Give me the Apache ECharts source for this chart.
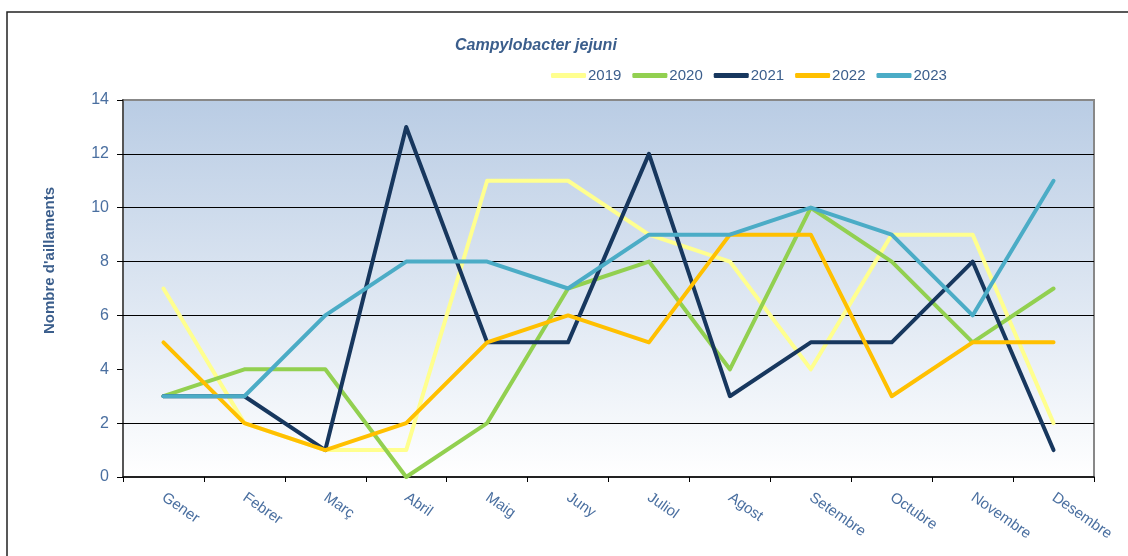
<!DOCTYPE html>
<html>
<head>
<meta charset="utf-8">
<title>Campylobacter jejuni</title>
<script src="https://cdn.jsdelivr.net/npm/echarts@6/dist/echarts.min.js"></script>
<style>
    html, body { margin: 0; padding: 0; background: #fff; }
    #main { width: 1128px; height: 556px; }
</style>
</head>
<body>
<div id="main"></div>
<script>
const months = ['Gener', 'Febrer', 'Març', 'Abril', 'Maig', 'Juny', 'Juliol', 'Agost', 'Setembre', 'Octubre', 'Novembre', 'Desembre'];
const years = ['2019', '2020', '2021', '2022', '2023'];
const data2019 = [7, 2, 1, 1, 11, 11, 9, 8, 4, 9, 9, 2];
const data2020 = [3, 4, 4, 0, 2, 7, 8, 4, 10, 8, 5, 7];
const data2021 = [3, 3, 1, 13, 5, 5, 12, 3, 5, 5, 8, 1];
const data2022 = [5, 2, 1, 2, 5, 6, 5, 9, 9, 3, 5, 5];
const data2023 = [3, 3, 6, 8, 8, 7, 9, 9, 10, 9, 6, 11];
// horizontal gridlines shown in the original (no line at 4)
const gridValues = [2, 6, 8, 10, 12];

const colorArr = ['#ffff8f', '#92d050', '#17375e', '#ffc000', '#4bacc6'];
const allData = [data2019, data2020, data2021, data2022, data2023];
const labelColor = '#4a6fa0';

const chart = echarts.init(document.getElementById('main'));

const series = years.map((name, i) => {
    const s = {
        name: name,
        type: 'line',
        data: allData[i],
        symbol: 'none',
        z: 3 + i,
        lineStyle: {
            color: colorArr[i],
            width: 4,
            cap: 'round',
            join: 'round'
        },
        itemStyle: { color: colorArr[i] }
    };
    if (i === 0) {
        s.markLine = {
            silent: true,
            symbol: 'none',
            z: 1,
            label: { show: false },
            lineStyle: { color: '#000', width: 1.2, type: 'solid' },
            data: gridValues.map(v => ({ yAxis: v }))
        };
    }
    return s;
});

const option = {
    animation: false,
    backgroundColor: '#fff',
    title: {
        text: 'Campylobacter jejuni',
        left: 450,
        top: 33,
        textStyle: {
            fontFamily: 'Liberation Sans',
            fontSize: 16,
            fontWeight: 'bold',
            fontStyle: 'italic',
            color: '#3b5e8c'
        }
    },
    legend: {
        left: 546,
        top: 63,
        icon: 'roundRect',
        itemWidth: 35,
        itemHeight: 5,
        itemGap: 11,
        textStyle: {
            fontFamily: 'Liberation Sans',
            fontSize: 15,
            color: '#3b5e8c',
            padding: [0, 0, 0, -3]
        },
        data: years
    },
    grid: {
        left: 123,
        right: 34,
        top: 100,
        bottom: 79,
        show: true,
        borderColor: '#888',
        borderWidth: 2,
        backgroundColor: new echarts.graphic.LinearGradient(0, 0, 0, 1, [
            { offset: 0, color: '#b9cce4' },
            { offset: 1, color: '#ffffff' }
        ])
    },
    xAxis: {
        type: 'category',
        data: months,
        boundaryGap: true,
        axisLine: { lineStyle: { color: '#000', width: 1.5 } },
        axisTick: { show: true, length: 5, lineStyle: { color: '#000' } },
        axisLabel: {
            rotate: -35,
            margin: 19,
            fontFamily: 'Liberation Sans',
            fontSize: 15,
            color: labelColor
        },
        splitLine: { show: false }
    },
    yAxis: {
        type: 'value',
        min: 0,
        max: 14,
        interval: 2,
        name: "Nombre d'aillaments",
        nameLocation: 'middle',
        nameGap: 66,
        nameTextStyle: {
            fontFamily: 'Liberation Sans',
            fontSize: 15,
            fontWeight: 'bold',
            color: '#3b5e8c',
            padding: [0, 0, 0, 56]
        },
        axisLine: { show: true, lineStyle: { color: '#555', width: 2 } },
        axisTick: { show: true, length: 6, lineStyle: { color: '#000' } },
        axisLabel: {
            margin: 14,
            fontFamily: 'Liberation Sans',
            fontSize: 16,
            color: labelColor
        },
        splitLine: { show: false }
    },
    graphic: [
        {
            type: 'polyline',
            silent: true,
            shape: { points: [[7, 556], [7, 12], [1128, 12]] },
            style: { stroke: '#222', lineWidth: 1.5, fill: null }
        }
    ],
    series: series
};

chart.setOption(option);
</script>
</body>
</html>
